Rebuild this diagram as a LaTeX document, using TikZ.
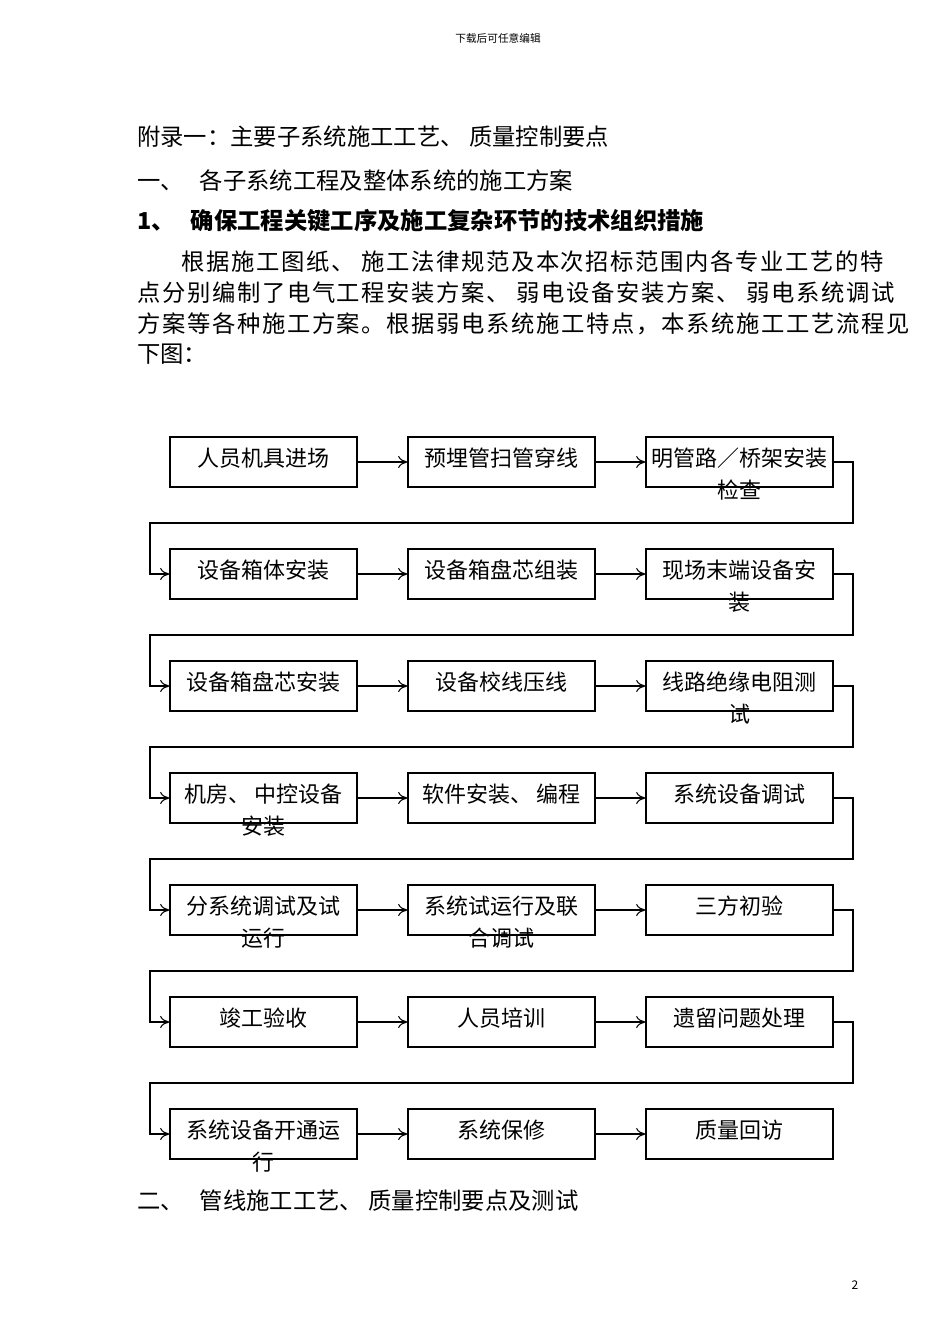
\documentclass[tikz,border=0pt]{standalone}
\usepackage{fontspec}
\setmainfont{Noto Sans CJK SC}
\newfontfamily\spaced[LetterSpace=7]{Noto Sans CJK SC}
\usetikzlibrary{arrows.meta}
\begin{document}
\begin{tikzpicture}[x=0.75pt,y=-0.75pt,
  box/.style={draw,line width=0.8pt,minimum width=140.25pt,minimum height=37.5pt,inner sep=0},
  lbl/.style={anchor=north,inner sep=0,align=center,font=\fontsize{16.5pt}{24pt}\selectfont},
  txt/.style={anchor=west,inner sep=0,font=\fontsize{17.5pt}{20pt}\selectfont},
  ptxt/.style={anchor=west,inner sep=0,font=\fontsize{17.5pt}{20pt}\spaced},
  conn/.style={line width=0.8pt,-{To[length=7pt,width=9pt]}},
  loopc/.style={line width=0.8pt,-{To[length=7pt,width=9pt]}}]
\useasboundingbox (0,0) rectangle (950,1344);
\fill[white] (0,0) rectangle (950,1344);
\node[inner sep=0,font=\fontsize{8pt}{10pt}\selectfont] (hdr) at (498,38) {下载后可任意编辑};
\node[inner sep=0,font=\fontsize{9pt}{10pt}\selectfont] (pg) at (855,1285) {2};
\node[txt] (t1) at (137,137) {附录一：主要子系统施工工艺、 质量控制要点};
\node[txt] (t2) at (137,181) {一、\hspace{12pt}各子系统工程及整体系统的施工方案};
\node[txt,font=\fontsize{17.5pt}{20pt}\selectfont\bfseries] (t3) at (137,221) {1、\hspace{12pt}确保工程关键工序及施工复杂环节的技术组织措施};
\node[ptxt] (p1) at (181,262) {根据施工图纸、 施工法律规范及本次招标范围内各专业工艺的特};
\node[ptxt] (p2) at (137,293) {点分别编制了电气工程安装方案、 弱电设备安装方案、 弱电系统调试};
\node[ptxt] (p3) at (137,324) {方案等各种施工方案。根据弱电系统施工特点，本系统施工工艺流程见};
\node[txt] (p4) at (137,354) {下图：};
\node[txt] (t4) at (137,1201) {二、\hspace{12pt}管线施工工艺、 质量控制要点及测试};
\foreach \r/\y in {1/462,2/574,3/686,4/798,5/910,6/1022,7/1134}{
  \node[box] (b\r a) at (263.5,\y) {};
  \node[box] (b\r b) at (501.5,\y) {};
  \node[box] (b\r c) at (739.5,\y) {};
  \draw[conn] (b\r a.east) -- (b\r b.west);
  \draw[conn] (b\r b.east) -- (b\r c.west);
}
\newcommand{\lb}[2]{\node[lbl] at ([yshift=11pt]#1) {#2};}
\lb{b1a}{人员机具进场}
\lb{b1b}{预埋管扫管穿线}
\lb{b1c}{明管路／桥架安装\\检查}
\lb{b2a}{设备箱体安装}
\lb{b2b}{设备箱盘芯组装}
\lb{b2c}{现场末端设备安\\装}
\lb{b3a}{设备箱盘芯安装}
\lb{b3b}{设备校线压线}
\lb{b3c}{线路绝缘电阻测\\试}
\lb{b4a}{机房、 中控设备\\安装}
\lb{b4b}{软件安装、 编程}
\lb{b4c}{系统设备调试}
\lb{b5a}{分系统调试及试\\运行}
\lb{b5b}{系统试运行及联\\合调试}
\lb{b5c}{三方初验}
\lb{b6a}{竣工验收}
\lb{b6b}{人员培训}
\lb{b6c}{遗留问题处理}
\lb{b7a}{系统设备开通运\\行}
\lb{b7b}{系统保修}
\lb{b7c}{质量回访}
\foreach \r/\n/\m in {1/2/523,2/3/635,3/4/747,4/5/859,5/6/971,6/7/1083}{
  \draw[loopc] (b\r c.east) -| (853,\m) -| (150,\m) |- (b\n a.west);
}
\end{tikzpicture}
\end{document}
